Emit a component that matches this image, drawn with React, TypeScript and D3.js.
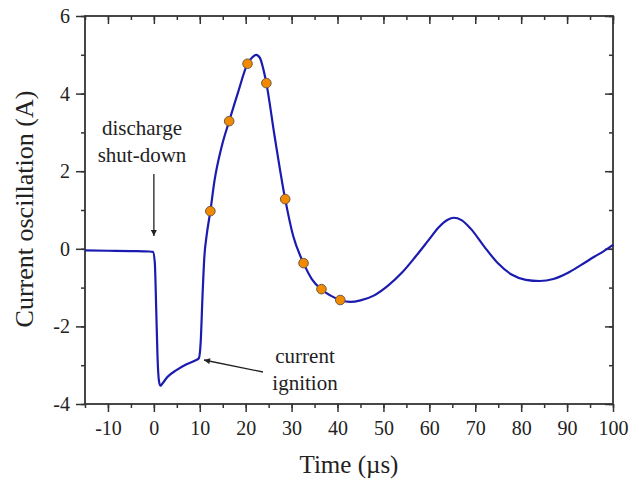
import React, { useEffect, useRef } from 'react';
import * as d3 from 'd3';

// trace (time in µs, current in A)
const traceT = [-15, -10, -5, -1, -0.2, 0.2, 0.5, 0.8, 1.1, 1.4, 1.7, 2.2, 3, 5, 7, 9, 9.8, 10.2, 10.6, 11, 11.5, 12.3, 13.2, 14.8, 16.4, 18.3, 20.4, 21.4, 22.3, 23.1, 23.8, 24.5, 26.3, 28.6, 30.3, 32.6, 34.4, 36.5, 38.4, 40.6, 42.8, 45, 48, 51, 54, 57, 60, 62, 64, 65.3, 67, 69, 72, 75, 78, 81, 84, 87, 90, 93, 96, 98, 100];
const traceI = [-0.04, -0.05, -0.06, -0.07, -0.08, -0.35, -1.5, -2.8, -3.4, -3.53, -3.5, -3.42, -3.3, -3.12, -2.98, -2.88, -2.82, -2.4, -1.2, -0.2, 0.35, 0.97, 1.75, 2.65, 3.29, 4.02, 4.77, 4.93, 5.0, 4.92, 4.65, 4.27, 2.9, 1.28, 0.35, -0.37, -0.78, -1.05, -1.2, -1.32, -1.37, -1.33, -1.2, -0.95, -0.62, -0.2, 0.25, 0.55, 0.75, 0.8, 0.74, 0.52, 0.05, -0.38, -0.67, -0.8, -0.83, -0.78, -0.63, -0.42, -0.2, -0.06, 0.1];

const markT = [12.3, 16.4, 20.4, 24.5, 28.6, 32.6, 36.5, 40.6];
const markI = [0.97, 3.29, 4.77, 4.27, 1.28, -0.37, -1.04, -1.32];

const xTicks = [-10, 0, 10, 20, 30, 40, 50, 60, 70, 80, 90, 100];
const yTicks = [-4, -2, 0, 2, 4, 6];

const W = 639, H = 479;
const M = { top: 16, right: 26, bottom: 75, left: 85 };
const FONT = '"Liberation Serif", "Times New Roman", serif';

function Chart() {
  const svgRef = useRef<SVGSVGElement>(null);

  useEffect(() => {
    if (!svgRef.current) return;
    const svg = d3.select(svgRef.current);
    svg.selectAll('*').remove();

    const x = d3.scaleLinear().domain([-15, 100]).range([M.left, W - M.right]);
    const y = d3.scaleLinear().domain([-4, 6]).range([H - M.bottom, M.top]);
    const plain = (d: d3.NumberValue) => String(d);

    svg.append('defs').append('marker')
      .attr('id', 'arr')
      .attr('viewBox', '0 0 10 10')
      .attr('refX', 10).attr('refY', 5)
      .attr('markerWidth', 9).attr('markerHeight', 6)
      .attr('markerUnits', 'userSpaceOnUse')
      .attr('orient', 'auto')
      .append('path').attr('d', 'M0,0 L10,5 L0,10 z').attr('fill', '#222');

    const minorX = d3.range(-15, 101, 5);
    const minorY = d3.range(-4, 7, 1);

    // bottom axis (ticks out)
    svg.append('g').attr('transform', `translate(0,${H - M.bottom})`)
      .call(d3.axisBottom(x).tickValues(minorX).tickSize(4).tickFormat(() => ''))
      .call(g => g.select('.domain').remove());
    svg.append('g').attr('transform', `translate(0,${H - M.bottom})`)
      .call(d3.axisBottom(x).tickValues(xTicks).tickSize(8).tickPadding(9).tickFormat(plain))
      .call(g => g.select('.domain').remove())
      .selectAll('text').attr('font-size', 20).attr('font-family', FONT).attr('fill', '#222');

    // left axis (ticks out)
    svg.append('g').attr('transform', `translate(${M.left},0)`)
      .call(d3.axisLeft(y).tickValues(minorY).tickSize(4).tickFormat(() => ''))
      .call(g => g.select('.domain').remove());
    svg.append('g').attr('transform', `translate(${M.left},0)`)
      .call(d3.axisLeft(y).tickValues(yTicks).tickSize(9).tickPadding(6).tickFormat(plain))
      .call(g => g.select('.domain').remove())
      .selectAll('text').attr('font-size', 20).attr('font-family', FONT).attr('fill', '#222');

    // top axis (ticks in)
    svg.append('g').attr('transform', `translate(0,${M.top})`)
      .call(d3.axisBottom(x).tickValues(minorX).tickSizeInner(4).tickSizeOuter(0).tickFormat(() => ''))
      .call(g => g.select('.domain').remove());
    svg.append('g').attr('transform', `translate(0,${M.top})`)
      .call(d3.axisBottom(x).tickValues(xTicks).tickSizeInner(8).tickSizeOuter(0).tickFormat(() => ''))
      .call(g => g.select('.domain').remove());

    // right axis (ticks in)
    svg.append('g').attr('transform', `translate(${W - M.right},0)`)
      .call(d3.axisLeft(y).tickValues(minorY).tickSizeInner(4).tickSizeOuter(0).tickFormat(() => ''))
      .call(g => g.select('.domain').remove());
    svg.append('g').attr('transform', `translate(${W - M.right},0)`)
      .call(d3.axisLeft(y).tickValues(yTicks).tickSizeInner(8).tickSizeOuter(0).tickFormat(() => ''))
      .call(g => g.select('.domain').remove());

    svg.selectAll('.tick line').attr('stroke', '#333').attr('stroke-width', 1.5);

    // frame
    svg.append('rect')
      .attr('x', M.left).attr('y', M.top)
      .attr('width', W - M.left - M.right).attr('height', H - M.top - M.bottom)
      .attr('fill', 'none').attr('stroke', '#333').attr('stroke-width', 1.8);

    // trace
    const pts = traceT.map((t, i) => [t, traceI[i]] as [number, number]);
    const line = d3.line<[number, number]>()
      .x(d => x(d[0]))
      .y(d => y(d[1]))
      .curve(d3.curveMonotoneX);
    svg.append('path')
      .datum(pts)
      .attr('fill', 'none')
      .attr('stroke', '#1b1bb0')
      .attr('stroke-width', 2.2)
      .attr('d', line);

    // markers
    svg.append('g').selectAll('circle')
      .data(markT.map((t, i) => [t, markI[i]]))
      .join('circle')
      .attr('cx', d => x(d[0]))
      .attr('cy', d => y(d[1]))
      .attr('r', 4.8)
      .attr('fill', '#f28a00')
      .attr('stroke', '#6b5a4a')
      .attr('stroke-width', 1);

    // annotations
    const note = svg.append('g').attr('font-family', FONT).attr('font-size', 21).attr('fill', '#222').attr('text-anchor', 'middle');
    note.append('text').attr('x', 142).attr('y', 135).text('discharge');
    note.append('text').attr('x', 142).attr('y', 162).text('shut-down');
    note.append('text').attr('x', 305).attr('y', 363).text('current');
    note.append('text').attr('x', 305).attr('y', 390).text('ignition');

    svg.append('line')
      .attr('x1', x(0)).attr('y1', 174).attr('x2', x(0)).attr('y2', 236)
      .attr('stroke', '#222').attr('stroke-width', 1.3).attr('marker-end', 'url(#arr)');
    svg.append('line')
      .attr('x1', 263).attr('y1', 372).attr('x2', 204).attr('y2', 360)
      .attr('stroke', '#222').attr('stroke-width', 1.3).attr('marker-end', 'url(#arr)');

    // axis titles
    svg.append('text')
      .attr('x', 349).attr('y', 473)
      .attr('text-anchor', 'middle')
      .attr('font-family', FONT).attr('font-size', 25).attr('fill', '#222')
      .text('Time (µs)');
    svg.append('text')
      .attr('transform', `translate(33,${(M.top + H - M.bottom) / 2 - 1}) rotate(-90)`)
      .attr('text-anchor', 'middle')
      .attr('font-family', FONT).attr('font-size', 26).attr('fill', '#222')
      .text('Current oscillation (A)');
  }, []);

  return <svg ref={svgRef} width={W} height={H} style={{ position: 'absolute', left: 0, top: 0, background: '#fff' }} />;
}

export default function App() {
  return <Chart />;
}
